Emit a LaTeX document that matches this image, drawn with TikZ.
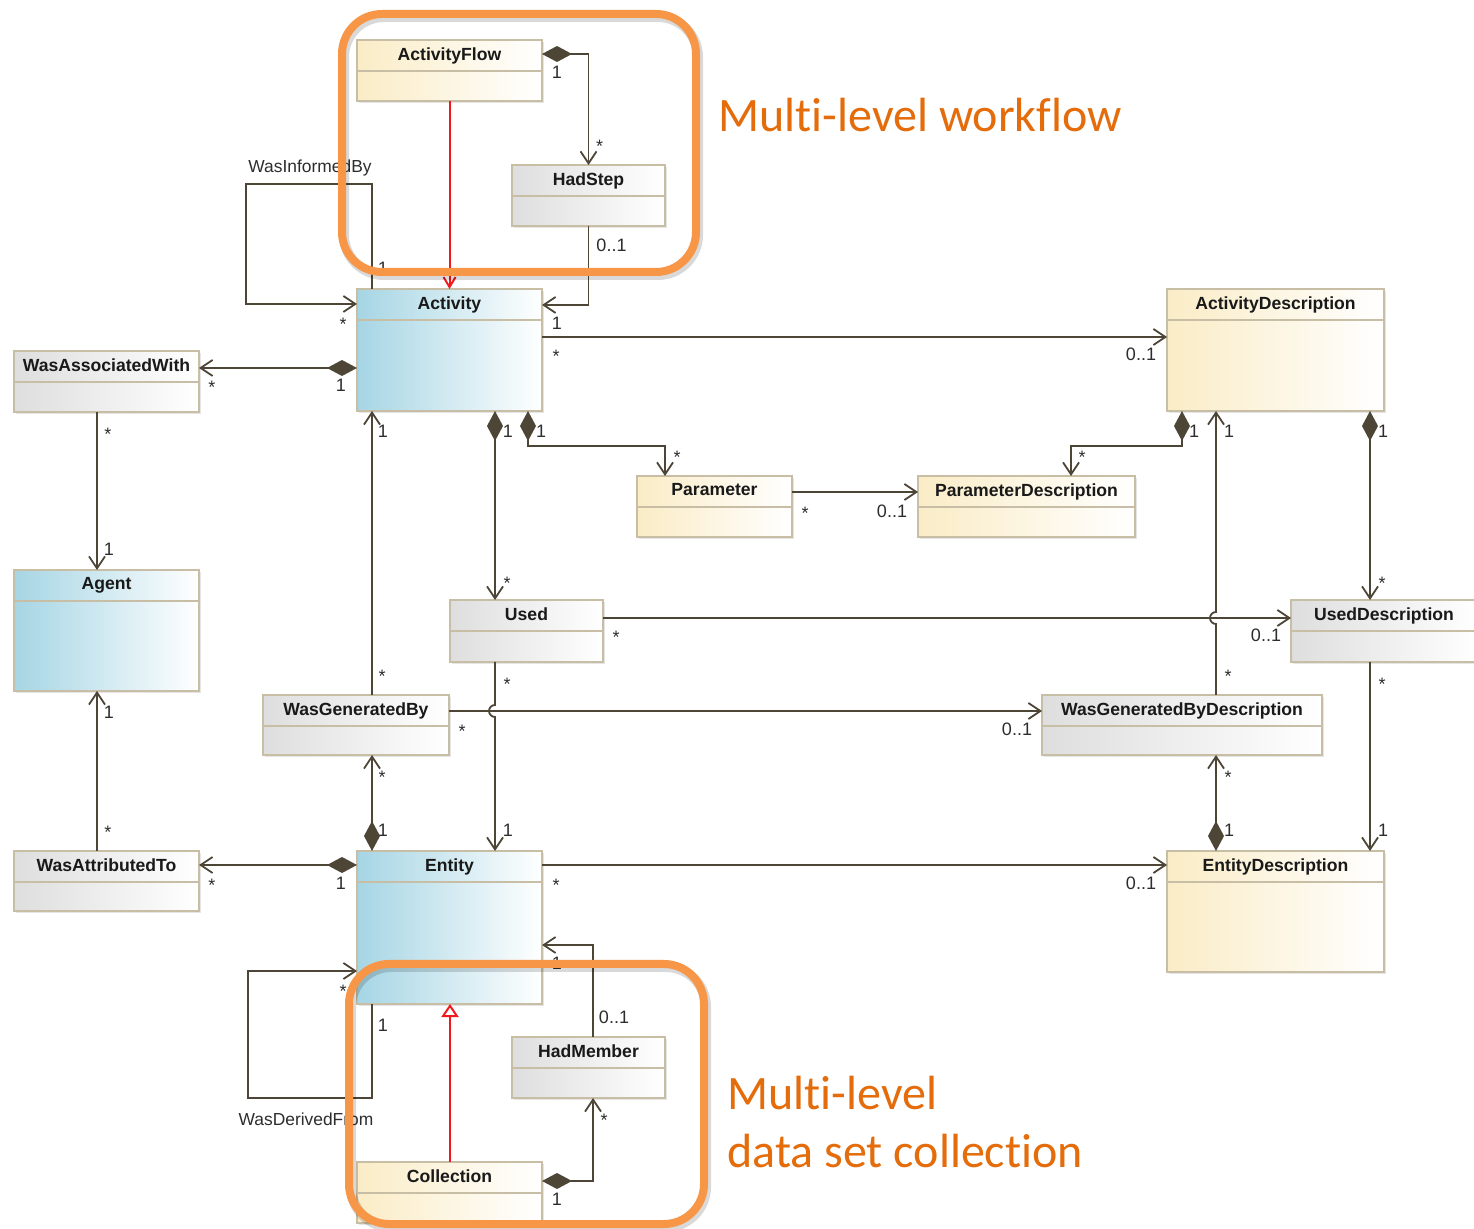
\documentclass[tikz,border=0pt]{standalone}
\usepackage{fontspec}
\setmainfont{Liberation Sans}
\newfontfamily\notefont[Ligatures=NoCommon]{Carlito}
\usetikzlibrary{positioning,arrows.meta,calc,shadows}
\newcommand\px{0.5pt}
\definecolor{linecol}{RGB}{77,70,55}
\definecolor{edgecol}{RGB}{200,190,165}
\definecolor{bluecol}{RGB}{166,213,228}
\definecolor{yellowcol}{RGB}{250,236,198}
\definecolor{greycol}{RGB}{222,222,222}
\definecolor{framecol}{RGB}{247,150,70}
\definecolor{notecol}{RGB}{228,108,10}
\definecolor{multcol}{RGB}{45,45,45}
\definecolor{genred}{RGB}{240,25,30}
\tikzset{
  cls/.style={draw=edgecol, line width=0.7pt, anchor=north west, inner sep=0pt, outer sep=0pt,
    drop shadow={shadow xshift=1pt, shadow yshift=-1pt, opacity=.2},
    path picture={\draw[edgecol, line width=0.7pt] ([yshift=-15.5pt]path picture bounding box.north west) -- ([yshift=-15.5pt]path picture bounding box.north east);},
    label={[clstitle]north:#1}},
  clstitle/.style={anchor=north, inner sep=3.5pt, font=\bfseries\fontsize{8.8}{10}\selectfont, text=black!90},
  dims/.style 2 args={minimum width=#1*\px, minimum height=#2*\px},
  bluecls/.style={left color=bluecol, right color=white},
  yellowcls/.style={left color=yellowcol, right color=white},
  greycls/.style={left color=greycol, right color=white},
  assoc/.style={draw=linecol, line width=0.9pt, -{Straight Barb[length=6pt,width=8pt]}},
  comp/.style={draw=linecol, line width=0.9pt, {Diamond[length=15pt,width=8pt]}-{Straight Barb[length=6pt,width=8pt]}},
  flowarr/.style={draw=genred, line width=1pt, -{Straight Barb[length=5pt,width=6pt]}},
  gen/.style={draw=genred, line width=1pt, -{Triangle[open,length=6.5pt,width=8.5pt,fill=white]}},
  mult/.style={font=\fontsize{9}{10}\selectfont, text=multcol, inner sep=0pt},
  ast/.style={mult, yshift=-2pt},
  assocname/.style={font=\fontsize{8.7}{10}\selectfont, text=multcol, inner sep=0pt},
  frame/.style={draw=framecol, line width=4pt, rounded corners=20pt},
  frameshadow/.style={draw=black, opacity=.15, line width=5pt, rounded corners=20pt},
  notetext/.style={font=\notefont\fontsize{24}{29}\selectfont, text=notecol, inner sep=0pt}
}
\begin{document}
\begin{tikzpicture}[x=\px, y=-\px]
\useasboundingbox (0,0) rectangle (1474,1229);
\fill[white] (0,0) rectangle (1474,1229);

\node[cls=ActivityFlow, yellowcls, dims={185}{61}] (flow) at (357,40) {};
\node[cls=HadStep, greycls, dims={153}{61}] (hadstep) at (512,165) {};
\node[cls=Activity, bluecls, dims={185}{122}] (activity) at (357,289) {};
\node[cls=ActivityDescription, yellowcls, dims={217}{122}] (actdesc) at (1167,289) {};
\node[cls=WasAssociatedWith, greycls, dims={185}{61}] (wasassoc) at (14,351) {};
\node[cls=Agent, bluecls, dims={185}{121}] (agent) at (14,570) {};
\node[cls=Parameter, yellowcls, dims={155}{61}] (param) at (637,476) {};
\node[cls=ParameterDescription, yellowcls, dims={217}{61}] (paramdesc) at (918,476) {};
\node[cls=Used, greycls, dims={153}{62}] (used) at (450,600) {};
\node[cls=UsedDescription, greycls, dims={186}{62}] (useddesc) at (1291,600) {};
\node[cls=WasGeneratedBy, greycls, dims={186}{60}] (wgb) at (263,695) {};
\node[cls=WasGeneratedByDescription, greycls, dims={280}{60}] (wgbd) at (1042,695) {};
\node[cls=WasAttributedTo, greycls, dims={185}{60}] (wat) at (14,851) {};
\node[cls=Entity, bluecls, dims={185}{153}] (entity) at (357,851) {};
\node[cls=EntityDescription, yellowcls, dims={217}{121}] (entdesc) at (1167,851) {};
\node[cls=HadMember, greycls, dims={153}{61}] (hadmember) at (512,1037) {};
\node[cls=Collection, yellowcls, dims={185}{61}] (collection) at (357,1162) {};

\coordinate (infoloop) at (246,184);
\coordinate (derivloop) at (248,1098);
\coordinate (usedline) at ($(used.north east)+(0,18)$);
\coordinate (wgbline) at ($(wgb.north east)+(0,16)$);
\coordinate (gendesc) at ($(wgbd.north west)+(174,0)$);
\coordinate (usedlane) at ($(used.south west)+(45,0)$);

% workflow
\draw[comp] ($(flow.north east)+(0,14)$) -| (hadstep.north)
  node[mult,pos=0,shift={(15,18)}]{1} node[ast,pos=1,shift={(11,-23)}]{*};
\draw[flowarr] (flow.south) -- (activity.north);
\draw[assoc] (hadstep.south) |- ($(activity.north east)+(0,16)$)
  node[mult,pos=0,shift={(23,19)}]{0..1} node[mult,pos=1,shift={(15,18)}]{1};
\draw[assoc] ($(activity.north west)+(15,0)$) |- (infoloop) node[mult,pos=0,shift={(11,-21)}]{1}
  |- ($(activity.north west)+(0,15)$) node[ast,pos=1,shift={(-14,16)}]{*};
\node[assocname, anchor=base] (informedby) at (310,173) {WasInformedBy};

% activity
\draw[assoc] ($(activity.north east)+(0,48)$) -- ($(actdesc.north west)+(0,48)$)
  node[ast,pos=0,shift={(14,15)}]{*} node[mult,pos=1,shift={(-26,17)}]{0..1};
\draw[comp] ($(activity.north west)+(0,79)$) -- ($(wasassoc.north east)+(0,17)$)
  node[mult,pos=0,shift={(-16,17)}]{1} node[ast,pos=1,shift={(13,15)}]{*};
\draw[assoc] ($(wasassoc.south west)+(83,0)$) -- ($(agent.north west)+(83,0)$)
  node[ast,pos=0,shift={(11,18)}]{*} node[mult,pos=1,shift={(12,-21)}]{1};
\draw[comp] ($(activity.south west)+(138,0)$) -- ($(used.north west)+(45,0)$)
  node[mult,pos=0,shift={(13,20)}]{1} node[ast,pos=1,shift={(12,-21)}]{*};
\draw[comp] ($(activity.south west)+(171,0)$) -- ++(0,35) node[mult,pos=0,shift={(13,20)}]{1}
  -| ($(param.north west)+(28,0)$) node[ast,pos=1,shift={(12,-23)}]{*};
\draw[assoc] ($(param.north east)+(0,16)$) -- ($(paramdesc.north west)+(0,16)$)
  node[ast,pos=0,shift={(13,17)}]{*} node[mult,pos=1,shift={(-26,19)}]{0..1};
\draw[comp] ($(actdesc.south west)+(15,0)$) -- ++(0,35) node[mult,pos=0,shift={(12,20)}]{1}
  -| ($(paramdesc.north west)+(153,0)$) node[ast,pos=1,shift={(11,-23)}]{*};
\draw[comp] ($(actdesc.south west)+(203,0)$) -- ($(useddesc.north west)+(79,0)$)
  node[mult,pos=0,shift={(13,20)}]{1} node[ast,pos=1,shift={(12,-21)}]{*};
\draw[assoc] (usedline) -- ($(useddesc.north west)+(0,18)$)
  node[ast,pos=0,shift={(13,15)}]{*} node[mult,pos=1,shift={(-25,17)}]{0..1};
\draw[assoc] (gendesc) -- ($(gendesc |- usedline)+(0,6)$) node[ast,pos=0,shift={(12,-23)}]{*}
  arc[start angle=270, end angle=90, radius=3pt]
  -- ($(actdesc.south west)+(49,0)$) node[mult,pos=1,shift={(13,20)}]{1};

% entity
\draw[assoc] (usedlane) -- ($(usedlane |- wgbline)+(0,-6)$) node[ast,pos=0,shift={(12,18)}]{*}
  arc[start angle=90, end angle=270, radius=3pt]
  -- ($(entity.north west)+(138,0)$) node[mult,pos=1,shift={(13,-21)}]{1};
\draw[assoc] ($(wgb.north west)+(109,0)$) -- ($(activity.south west)+(15,0)$)
  node[ast,pos=0,shift={(10,-23)}]{*} node[mult,pos=1,shift={(11,20)}]{1};
\draw[assoc] (wgbline) -- ($(wgbd.north west)+(0,16)$)
  node[ast,pos=0,shift={(13,16)}]{*} node[mult,pos=1,shift={(-25,18)}]{0..1};
\draw[comp] ($(entity.north west)+(15,0)$) -- ($(wgb.south west)+(109,0)$)
  node[mult,pos=0,shift={(11,-21)}]{1} node[ast,pos=1,shift={(10,18)}]{*};
\draw[comp] ($(entdesc.north west)+(49,0)$) -- ($(wgbd.south west)+(174,0)$)
  node[mult,pos=0,shift={(13,-21)}]{1} node[ast,pos=1,shift={(12,18)}]{*};
\draw[assoc] ($(useddesc.south west)+(79,0)$) -- ($(entdesc.north west)+(203,0)$)
  node[ast,pos=0,shift={(12,18)}]{*} node[mult,pos=1,shift={(13,-21)}]{1};
\draw[assoc] ($(wat.north west)+(83,0)$) -- ($(agent.south west)+(83,0)$)
  node[ast,pos=0,shift={(11,-23)}]{*} node[mult,pos=1,shift={(12,21)}]{1};
\draw[comp] ($(entity.north west)+(0,14)$) -- ($(wat.north east)+(0,14)$)
  node[mult,pos=0,shift={(-16,18)}]{1} node[ast,pos=1,shift={(13,16)}]{*};
\draw[assoc] ($(entity.north east)+(0,14)$) -- ($(entdesc.north west)+(0,14)$)
  node[ast,pos=0,shift={(14,16)}]{*} node[mult,pos=1,shift={(-26,18)}]{0..1};
\draw[assoc] ($(entity.south west)+(15,0)$) |- (derivloop) node[mult,pos=0,shift={(11,21)}]{1}
  |- ($(entity.north west)+(0,120)$) node[ast,pos=1,shift={(-14,16)}]{*};
\node[assocname, anchor=base] (derivedfrom) at (306,1125) {WasDerivedFrom};

% collection
\draw[assoc] ($(hadmember.north west)+(81,0)$) |- ($(entity.north east)+(0,94)$)
  node[mult,pos=0,shift={(21,-20)}]{0..1} node[mult,pos=1,shift={(15,18)}]{1};
\draw[gen] ($(collection.north west)+(93,0)$) -- ($(entity.south west)+(93,0)$);
\draw[comp] ($(collection.north east)+(0,19)$) -| ($(hadmember.south west)+(81,0)$)
  node[mult,pos=0,shift={(15,18)}]{1} node[ast,pos=1,shift={(11,18)}]{*};

% frames
\draw[frameshadow] (344,17) rectangle (698,275);
\draw[frame] (342,14) rectangle (696,272);
\draw[frameshadow] (351,967) rectangle (706,1227);
\draw[frame] (349,964) rectangle (704,1224);
\node[notetext, anchor=base west] (flownote) at (718,132) {Multi-level workflow};
\node[notetext, anchor=base west] (colnote) at (727,1109) {Multi-level};
\node[notetext, anchor=base west] (colnotetwo) at (727,1167) {data set collection};
\end{tikzpicture}
\end{document}
